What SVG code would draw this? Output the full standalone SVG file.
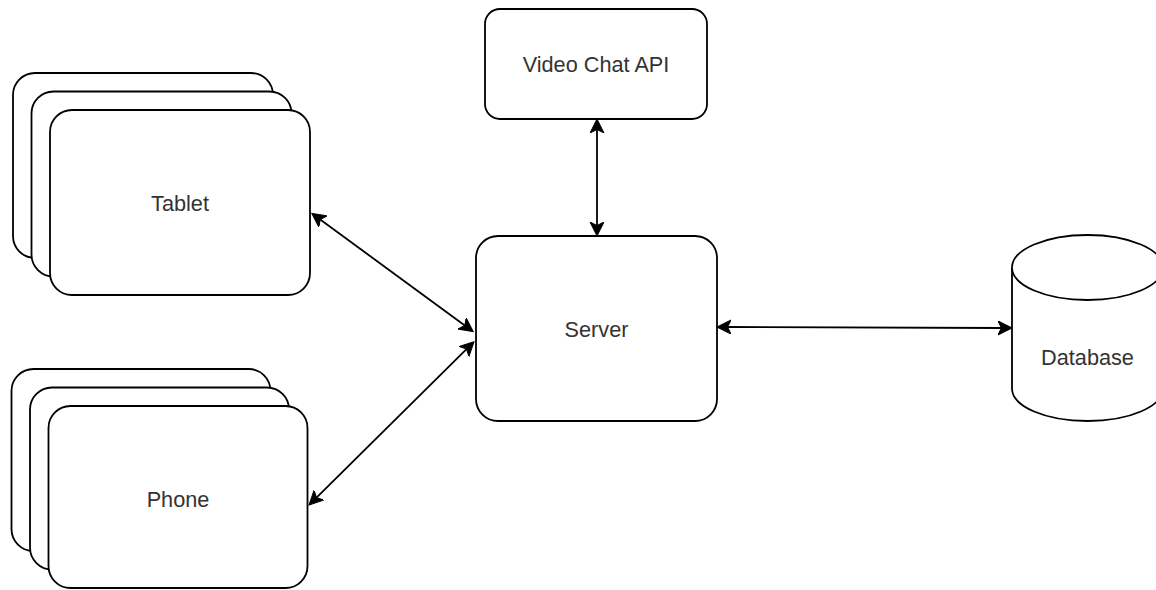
<svg xmlns="http://www.w3.org/2000/svg" width="1156" height="590" viewBox="0 0 1156 590">
  <style>
    .box { fill: #ffffff; stroke: #000000; stroke-width: 1.8; }
    .lbl { font-family: "Liberation Sans", Arial, Helvetica, sans-serif; font-size: 21.7px; fill: #333333; text-anchor: middle; dominant-baseline: central; }
    .link { fill: none; stroke: #000000; stroke-width: 1.8; marker-start: url(#arrow); marker-end: url(#arrow); }
  </style>
  <defs>
    <marker id="arrow" markerUnits="userSpaceOnUse" markerWidth="16" markerHeight="16" refX="3.5" refY="7" orient="auto-start-reverse">
      <path d="M14,7 L0,0 L3.5,7 L0,14 Z" fill="#000000" stroke="#000000" stroke-width="1" stroke-linejoin="miter"/>
    </marker>
  </defs>
  <rect width="1156" height="590" fill="#ffffff"/>

  <!-- stacked tablet devices -->
  <g id="tablet">
    <rect class="box" x="13" y="73" width="260" height="185" rx="22" ry="22"/>
    <rect class="box" x="31.5" y="91.5" width="260" height="185" rx="22" ry="22"/>
    <rect class="box" x="50" y="110" width="260" height="185" rx="22" ry="22"/>
    <text class="lbl" x="180" y="203">Tablet</text>
  </g>

  <!-- stacked phone devices -->
  <g id="phone">
    <rect class="box" x="11.5" y="369" width="259" height="182" rx="22" ry="22"/>
    <rect class="box" x="30" y="387.5" width="259" height="182" rx="22" ry="22"/>
    <rect class="box" x="48.5" y="406" width="259" height="182" rx="22" ry="22"/>
    <text class="lbl" x="178" y="499">Phone</text>
  </g>

  <g id="video-chat-api">
    <rect class="box" x="485" y="9" width="222" height="110" rx="15" ry="15"/>
    <text class="lbl" x="596" y="64">Video Chat API</text>
  </g>

  <g id="server">
    <rect class="box" x="476" y="236" width="241" height="185" rx="22" ry="22"/>
    <text class="lbl" x="596.5" y="329">Server</text>
  </g>

  <!-- cylinder store -->
  <g id="database">
    <path class="box" d="M1012,267.5 L1012,388.5 A75.5,32.5 0 0 0 1163,388.5 L1163,267.5 A75.5,32.5 0 0 0 1012,267.5 Z"/>
    <path class="box" fill="none" d="M1012,267.5 A75.5,32.5 0 0 0 1163,267.5"/>
    <text class="lbl" x="1087.5" y="357">Database</text>
  </g>

  <g id="connectors">
    <line class="link" x1="597" y1="129.5" x2="597" y2="225.5"/>
    <line class="link" x1="320.2" y1="219.5" x2="464.8" y2="325.5"/>
    <line class="link" x1="316.5" y1="497.6" x2="466.5" y2="349.1"/>
    <line class="link" x1="727.5" y1="327" x2="1001.5" y2="328"/>
  </g>
</svg>
